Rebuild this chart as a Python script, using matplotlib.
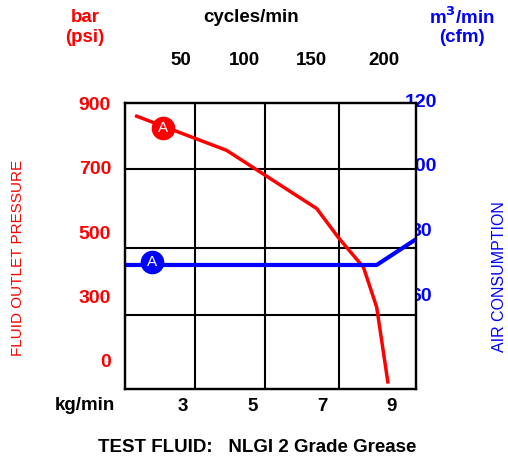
import matplotlib
matplotlib.use("Agg")
import matplotlib.pyplot as plt
from matplotlib.transforms import blended_transform_factory

plt.rcParams['font.family'] = ['Liberation Sans', 'DejaVu Sans']

# kg/min axis (bottom) and matching cycles/min labels (top)
kg_ticks = [3, 5, 7, 9]
kg_labels = ['3', '5', '7', '9']
cyc_pos = [2.95, 4.77, 6.7, 8.77]
cyc_labels = ['50', '100', '150', '200']
grid_x = [3.35, 5.35, 7.48]

# pressure axis (left)
p_ticks = [900, 700, 500, 300, 100]
p_labels = ['900', '700', '500', '300', '0']
grid_y = [695, 452, 243]

# air axis (right)
air_ticks = [120, 100, 80, 60]
air_labels = ['120', '100', '80', '60']

# curves
press_x = [1.67, 4.25, 6.84, 7.46, 8.18, 8.56, 8.88]
press_y = [860, 754, 573, 483, 391, 267, 35]
air_x = [1.34, 8.56, 9.68]
air_y = [69.6, 69.6, 77.5]
mark_press = (2.42, 824)
mark_air = (2.12, 70.4)

RED = '#ff0000'
BLUE = '#0000ff'

fig = plt.figure(figsize=(5.08, 4.62), dpi=100)
W, H = 508, 462
ax = fig.add_axes([125/W, 1-388.5/H, 290.7/W, 285.2/H])
ax.set_zorder(1)
ax.set_facecolor('white')
ax.set_xlim(1.335, 9.68)
ax.set_ylim(14.4, 896)
ax2 = ax.twinx()
ax2.set_ylim(31.4, 119.6)

for a in (ax, ax2):
    for s in a.spines.values():
        s.set_linewidth(1.6)
        s.set_color('black')

for gx in grid_x:
    ax.axvline(gx, color='black', lw=1.5, zorder=1)
for gy in grid_y:
    ax.axhline(gy, color='black', lw=1.5, zorder=1)

ax.set_xticks(kg_ticks)
ax.set_xticklabels(kg_labels, fontsize=13.5, fontweight='bold')
ax.tick_params(axis='x', length=0, pad=7)
ax.set_yticks(p_ticks)
ax.set_yticklabels(p_labels, fontsize=14, fontweight='bold', color=RED)
ax.tick_params(axis='y', length=0, pad=10)

top = ax.secondary_xaxis('top')
top.set_xticks(cyc_pos)
top.set_xticklabels(cyc_labels, fontsize=13.5, fontweight='bold')
top.tick_params(length=0, pad=25)
top.spines['top'].set_visible(False)

ax2.set_yticks([])

# right labels drawn below the plot box so the box hides part of them
tr = blended_transform_factory(fig.transFigure, ax2.transData)
for v, lab in zip(air_ticks, air_labels):
    fig.text(421/W, v, lab, transform=tr, ha='center', va='center',
             fontsize=14, fontweight='bold', color=BLUE, zorder=-1)

ax2.plot(air_x, air_y, color=BLUE, lw=3, zorder=2)
ax2.plot(*mark_air, 'o', color=BLUE, ms=16, zorder=3)
ax2.text(*mark_air, 'A', color='white', fontsize=11, ha='center', va='center', zorder=4)

ax.plot(press_x, press_y, color=RED, lw=2.5, zorder=3)
ax.plot(*mark_press, 'o', color=RED, ms=16, zorder=4)
ax.text(*mark_press, 'A', color='white', fontsize=11, ha='center', va='center', zorder=5)

fs = 13.5
fig.text(85/W, 1-17/H, 'bar', color=RED, fontsize=fs, fontweight='bold', ha='center', va='center')
fig.text(85/W, 1-38/H, '(psi)', color=RED, fontsize=fs, fontweight='bold', ha='center', va='center')
fig.text(251/W, 1-17/H, 'cycles/min', fontsize=fs, fontweight='bold', ha='center', va='center')
fig.text(462/W, 1-17/H, 'm$^{\\mathbf{3}}$/min', color=BLUE, fontsize=fs, fontweight='bold', ha='center', va='center')
fig.text(462/W, 1-38/H, '(cfm)', color=BLUE, fontsize=fs, fontweight='bold', ha='center', va='center')
fig.text(85/W, 1-405/H, 'kg/min', fontsize=fs, fontweight='bold', ha='center', va='center')
fig.text(257/W, 1-448/H, 'TEST FLUID:   NLGI 2 Grade Grease', fontsize=fs, fontweight='bold', ha='center', va='center')

fig.text(18/W, 1-258/H, 'FLUID OUTLET PRESSURE', color=RED, fontsize=11, rotation=90,
         ha='center', va='center')
fig.text(500/W, 1-277/H, 'AIR CONSUMPTION', color=BLUE, fontsize=11.5, rotation=90,
         ha='center', va='center')

fig.savefig('out.png', dpi=100)
